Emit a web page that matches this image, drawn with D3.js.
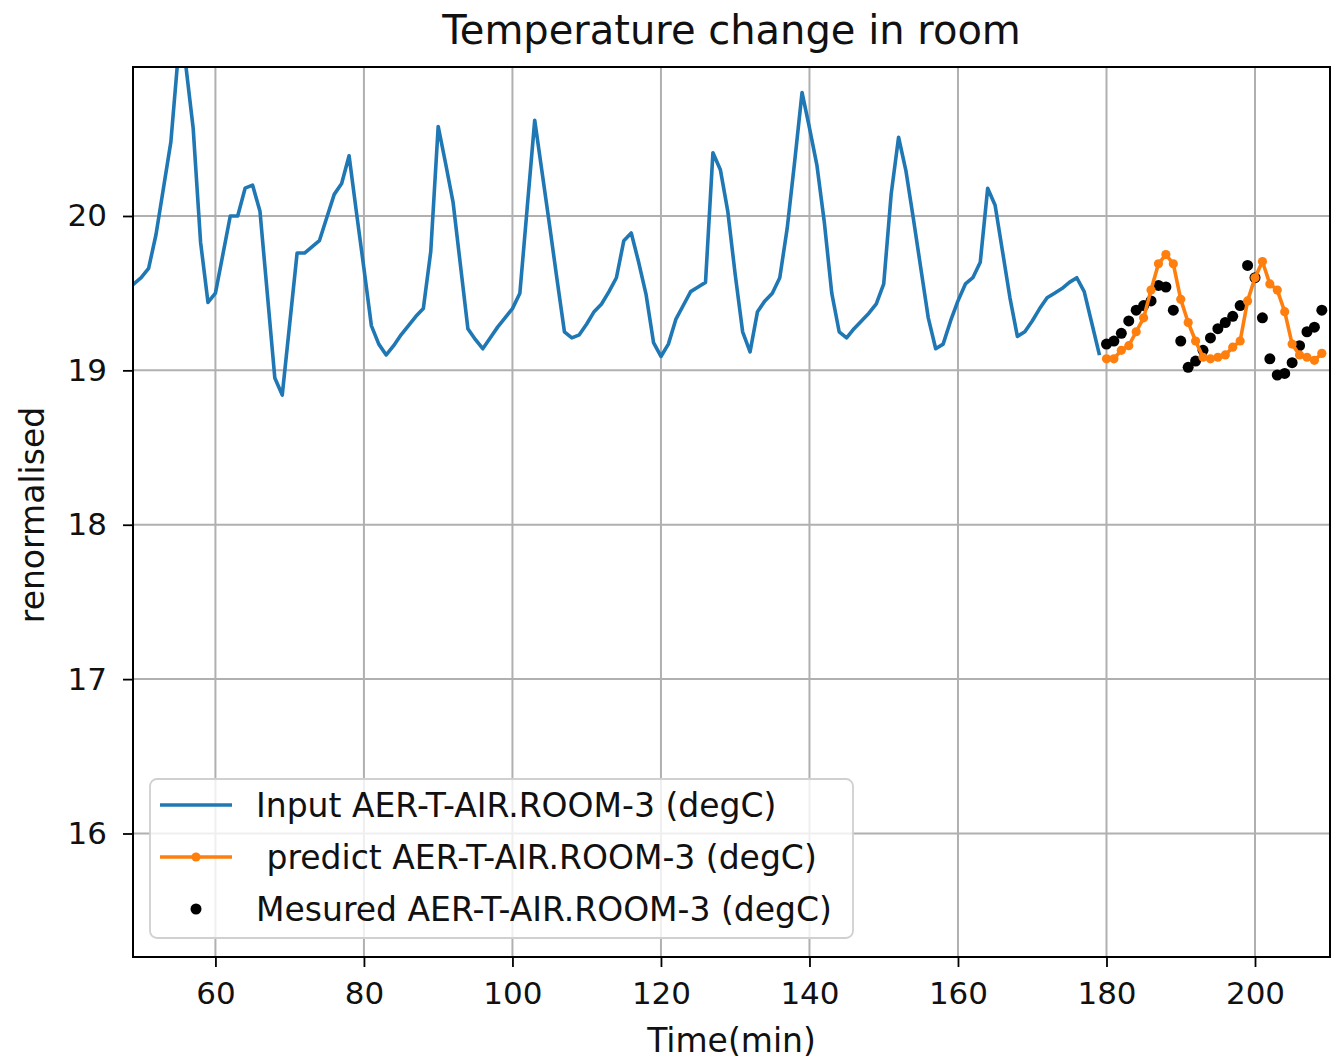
<!DOCTYPE html>
<html>
<head>
<meta charset="utf-8">
<script src="https://cdn.jsdelivr.net/npm/d3@7"></script>
<style>
  html, body { margin: 0; padding: 0; background: #fff; }
  svg { display: block; font-family: "DejaVu Sans", sans-serif; }
</style>
</head>
<body>
<svg id="chart" width="1332" height="1061"></svg>
<script>
// ---------- data ----------
const chartTitle = "Temperature change in room";
const xLabel = "Time(min)";
const yLabel = "renormalised";
const xTicks = [60, 80, 100, 120, 140, 160, 180, 200];
const yTicks = [16, 17, 18, 19, 20];

const inputStart = 49;   // minute of first input sample (1-minute sampling)
const inputValues = [
  19.56, 19.60, 19.66, 19.88, 20.18, 20.48, 21.05, 20.98, 20.57, 19.83,
  19.44, 19.50, 19.75, 20.00, 20.00, 20.18, 20.20, 20.03, 19.49, 18.95,
  18.84, 19.30, 19.76, 19.76, 19.80, 19.84, 19.99, 20.14, 20.21, 20.39,
  20.02, 19.66, 19.29, 19.17, 19.10, 19.16, 19.23, 19.29, 19.35, 19.40,
  19.77, 20.58, 20.34, 20.09, 19.68, 19.27, 19.20, 19.14, 19.21, 19.28,
  19.34, 19.40, 19.50, 20.06, 20.62, 20.28, 19.94, 19.59, 19.25, 19.21,
  19.23, 19.30, 19.38, 19.43, 19.51, 19.60, 19.84, 19.89, 19.70, 19.49,
  19.18, 19.09, 19.17, 19.33, 19.42, 19.51, 19.54, 19.57, 20.41, 20.30,
  20.03, 19.62, 19.25, 19.12, 19.38, 19.45, 19.50, 19.60, 19.92, 20.35,
  20.80, 20.57, 20.33, 19.96, 19.50, 19.25, 19.21, 19.27, 19.32, 19.37,
  19.43, 19.56, 20.14, 20.51, 20.29, 19.98, 19.66, 19.34, 19.14, 19.17,
  19.32, 19.45, 19.56, 19.60, 19.70, 20.18, 20.07, 19.77, 19.47, 19.22,
  19.25, 19.32, 19.40, 19.47, 19.50, 19.53, 19.57, 19.60, 19.51, 19.31,
  19.11
];

const forecastStart = 180; // minute of first predicted / measured sample
const predictValues = [
  19.075, 19.075, 19.13, 19.16, 19.25, 19.34, 19.52, 19.69, 19.75, 19.69,
  19.46, 19.31, 19.19, 19.085, 19.075, 19.085, 19.10, 19.15, 19.19, 19.45,
  19.60, 19.705, 19.56, 19.52, 19.38, 19.17, 19.10, 19.085, 19.065, 19.11
];
const measuredValues = [
  19.17, 19.19, 19.24, 19.32, 19.39, 19.42, 19.45, 19.55, 19.54, 19.39,
  19.19, 19.02, 19.06, 19.13, 19.21, 19.27, 19.31, 19.35, 19.42, 19.68,
  19.60, 19.34, 19.075, 18.97, 18.98, 19.05, 19.16, 19.25, 19.28, 19.39
];

const legendLabels = [
  "Input AER-T-AIR.ROOM-3 (degC)",
  " predict AER-T-AIR.ROOM-3 (degC)",
  "Mesured AER-T-AIR.ROOM-3 (degC)"
];

// ---------- layout ----------
const svg = d3.select("#chart");
const L = 133, R = 1330, T = 67, B = 957;
const blue = "#1f77b4", orange = "#ff7f0e";

const x = d3.scaleLinear().domain([48.9, 210.1]).range([L, R]);
const y = d3.scaleLinear().domain([15.2, 20.965]).range([B, T]);

const inputData = inputValues.map((v, i) => ({ t: inputStart + i, v }));
const predData = predictValues.map((v, i) => ({ t: forecastStart + i, v }));
const measData = measuredValues.map((v, i) => ({ t: forecastStart + i, v }));

svg.append("defs").append("clipPath").attr("id", "clip")
  .append("rect").attr("x", L).attr("y", T).attr("width", R - L).attr("height", B - T);

// grid
const grid = svg.append("g");
grid.selectAll(".gx").data(xTicks).join("line")
  .attr("x1", d => x(d)).attr("x2", d => x(d)).attr("y1", T).attr("y2", B)
  .attr("stroke", "#b0b0b0").attr("stroke-width", 2);
grid.selectAll(".gy").data(yTicks).join("line")
  .attr("y1", d => y(d)).attr("y2", d => y(d)).attr("x1", L).attr("x2", R)
  .attr("stroke", "#b0b0b0").attr("stroke-width", 2);

const plot = svg.append("g").attr("clip-path", "url(#clip)");
const line = d3.line().x(d => x(d.t)).y(d => y(d.v));

// measured scatter (drawn below the lines, as matplotlib does)
plot.selectAll(".meas").data(measData).join("circle")
  .attr("cx", d => x(d.t)).attr("cy", d => y(d.v)).attr("r", 5.5)
  .attr("fill", "#000");

plot.append("path").datum(inputData).attr("d", line)
  .attr("fill", "none").attr("stroke", blue).attr("stroke-width", 3.6)
  .attr("stroke-linejoin", "round").attr("stroke-linecap", "square");

plot.append("path").datum(predData).attr("d", line)
  .attr("fill", "none").attr("stroke", orange).attr("stroke-width", 3.6)
  .attr("stroke-linejoin", "round");
plot.selectAll(".pred").data(predData).join("circle")
  .attr("cx", d => x(d.t)).attr("cy", d => y(d.v)).attr("r", 4.6)
  .attr("fill", orange);

// axes
const fs = 31;
const lfs = 33;
const xAxis = svg.append("g").attr("transform", `translate(0,${B})`)
  .call(d3.axisBottom(x).tickValues(xTicks).tickSize(10).tickPadding(15).tickFormat(d3.format("d")));
const yAxis = svg.append("g").attr("transform", `translate(${L},0)`)
  .call(d3.axisLeft(y).tickValues(yTicks).tickSize(10).tickPadding(16).tickFormat(d3.format("d")));
[xAxis, yAxis].forEach(a => {
  a.select(".domain").remove();
  a.selectAll(".tick line").attr("stroke", "#000").attr("stroke-width", 1.8);
  a.selectAll(".tick text").attr("font-size", fs).attr("fill", "#111")
    .attr("font-family", "DejaVu Sans");
});

// frame
svg.append("rect").attr("x", L).attr("y", T).attr("width", R - L).attr("height", B - T)
  .attr("fill", "none").attr("stroke", "#000").attr("stroke-width", 2);

// labels
svg.append("text").attr("x", (L + R) / 2).attr("y", 44).attr("text-anchor", "middle")
  .attr("font-size", 40).attr("fill", "#111").text(chartTitle);
svg.append("text").attr("x", (L + R) / 2).attr("y", 1052).attr("text-anchor", "middle")
  .attr("font-size", lfs).attr("fill", "#111").text(xLabel);
svg.append("text").attr("transform", `translate(44,${(T + B) / 2 + 3}) rotate(-90)`)
  .attr("text-anchor", "middle").attr("font-size", lfs).attr("fill", "#111").text(yLabel);

// legend
const lg = svg.append("g");
lg.append("rect").attr("x", 150).attr("y", 779).attr("width", 703).attr("height", 159)
  .attr("rx", 7).attr("fill", "#fff").attr("fill-opacity", 0.8)
  .attr("stroke", "#d0d0d0").attr("stroke-width", 1.8);
const rowsY = [805, 857, 909];
lg.append("line").attr("x1", 160).attr("x2", 232).attr("y1", rowsY[0]).attr("y2", rowsY[0])
  .attr("stroke", blue).attr("stroke-width", 3.6);
lg.append("line").attr("x1", 160).attr("x2", 232).attr("y1", rowsY[1]).attr("y2", rowsY[1])
  .attr("stroke", orange).attr("stroke-width", 3.6);
lg.append("circle").attr("cx", 196).attr("cy", rowsY[1]).attr("r", 4.6).attr("fill", orange);
lg.append("circle").attr("cx", 196).attr("cy", rowsY[2]).attr("r", 5.5).attr("fill", "#000");
lg.selectAll(".lt").data(legendLabels).join("text")
  .attr("x", 256).attr("y", (d, i) => rowsY[i] + 12)
  .attr("font-size", lfs).attr("fill", "#111")
  .attr("xml:space", "preserve").style("white-space", "pre")
  .text(d => d);
</script>
</body>
</html>
